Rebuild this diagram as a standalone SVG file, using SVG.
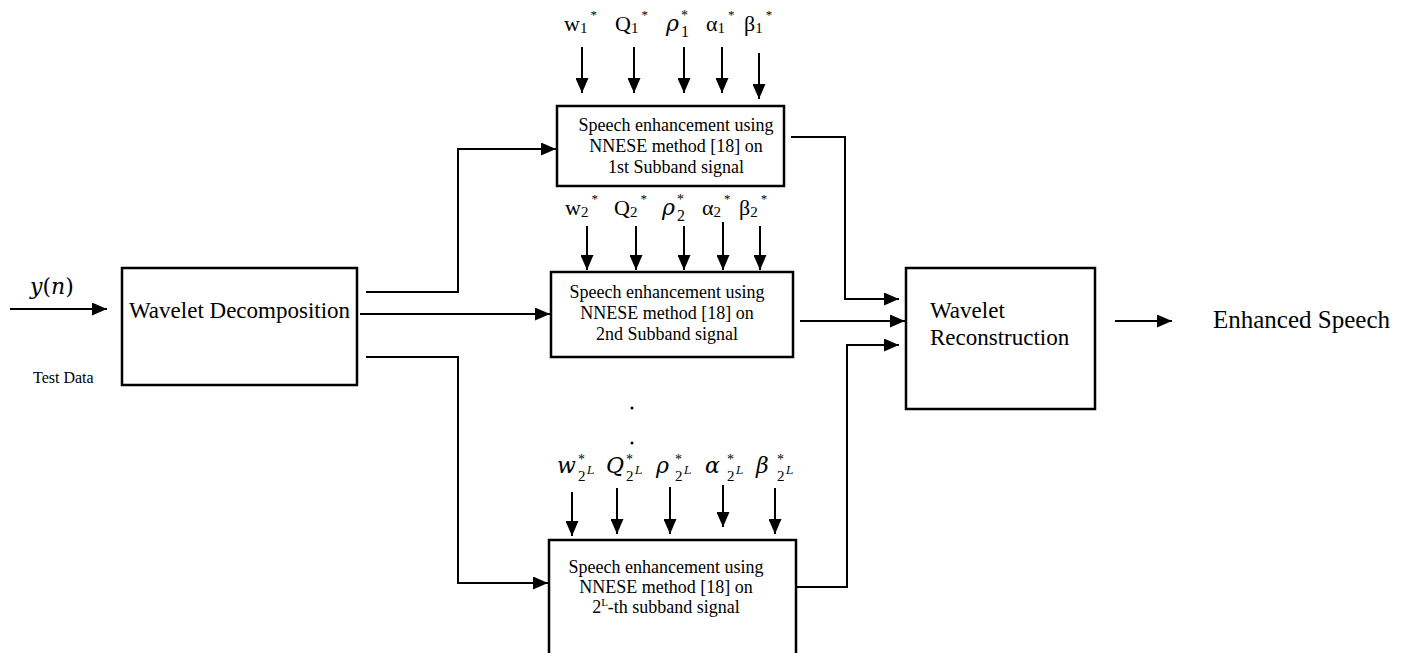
<svg xmlns="http://www.w3.org/2000/svg" width="1407" height="653" viewBox="0 0 1407 653">
<style>
.box{fill:#fff;stroke:#000;stroke-width:2.5}
.ln{fill:none;stroke:#000;stroke-width:2}
.t{font-family:"Liberation Serif","Times New Roman",serif;fill:#000}
.bt{font-family:"Liberation Serif","Times New Roman",serif;font-size:18px;fill:#000;text-anchor:middle}
.m{font-family:"DejaVu Serif","Liberation Serif",serif;font-style:italic;fill:#000}
.p{font-family:"Liberation Serif",serif;font-size:22px;fill:#000}
</style>
<defs>
<marker id="ah" viewBox="0 0 15 13" refX="15" refY="6.5" markerWidth="15" markerHeight="13" markerUnits="userSpaceOnUse" orient="auto">
<path d="M0,0 L15,6.5 L0,13 z" fill="#000"/>
</marker>
</defs>
<rect width="1407" height="653" fill="#fff"/>

<g id="connectors">
<path class="ln" d="M10,309 H107" marker-end="url(#ah)"/>
<path class="ln" d="M366,292 H458 V149 H556" marker-end="url(#ah)"/>
<path class="ln" d="M360,314 H550" marker-end="url(#ah)"/>
<path class="ln" d="M366,357 H458 V583 H548" marker-end="url(#ah)"/>
<path class="ln" d="M791,137 H845 V299 H899" marker-end="url(#ah)"/>
<path class="ln" d="M800,321 H905" marker-end="url(#ah)"/>
<path class="ln" d="M796,587 H847 V345 H899" marker-end="url(#ah)"/>
<path class="ln" d="M1115,321 H1172" marker-end="url(#ah)"/>
<!-- parameter arrows row 1 -->
<path class="ln" d="M582,47 V93" marker-end="url(#ah)"/>
<path class="ln" d="M634,47 V93" marker-end="url(#ah)"/>
<path class="ln" d="M684,47 V93" marker-end="url(#ah)"/>
<path class="ln" d="M722,47 V93" marker-end="url(#ah)"/>
<path class="ln" d="M759,53 V99" marker-end="url(#ah)"/>
<!-- row 2 -->
<path class="ln" d="M587,226 V270" marker-end="url(#ah)"/>
<path class="ln" d="M636,226 V270" marker-end="url(#ah)"/>
<path class="ln" d="M684,226 V270" marker-end="url(#ah)"/>
<path class="ln" d="M723,222 V270" marker-end="url(#ah)"/>
<path class="ln" d="M760,226 V270" marker-end="url(#ah)"/>
<!-- row 3 -->
<path class="ln" d="M572,492 V536" marker-end="url(#ah)"/>
<path class="ln" d="M617,488 V534" marker-end="url(#ah)"/>
<path class="ln" d="M670,487 V534" marker-end="url(#ah)"/>
<path class="ln" d="M723,485 V527" marker-end="url(#ah)"/>
<path class="ln" d="M775,488 V534" marker-end="url(#ah)"/>
</g>

<g id="input-label">
<text class="m" x="30" y="294" font-size="22">y<tspan font-style="normal">(</tspan>n<tspan font-style="normal">)</tspan></text>
<text class="t" x="33" y="383" font-size="16">Test Data</text>
</g>

<g id="decomposition">
<rect class="box" x="122" y="268" width="235" height="117"/>
<text class="t" x="129" y="318" font-size="23">Wavelet Decomposition</text>
</g>

<g id="enh1">
<rect class="box" x="557" y="106" width="227" height="80"/>
<text class="bt" x="676" y="131">Speech enhancement using</text>
<text class="bt" x="676" y="152">NNESE method [18] on</text>
<text class="bt" x="676" y="173">1st Subband signal</text>
</g>

<g id="params1">
<text class="p" x="564" y="31">w<tspan font-size="15" dy="2">1</tspan><tspan font-size="13" dx="3" dy="-14">*</tspan></text>
<text class="p" x="615" y="31">Q<tspan font-size="15" dy="2">1</tspan><tspan font-size="13" dx="3" dy="-14">*</tspan></text>
<text class="m" x="666" y="31" font-size="22">ρ</text>
<text class="t" x="681" y="20" font-size="14">*</text>
<text class="t" x="681" y="37" font-size="16">1</text>
<text class="p" x="706" y="31">α<tspan font-size="15" dy="2">1</tspan><tspan font-size="13" dx="3" dy="-14">*</tspan></text>
<text class="p" x="744" y="31">β<tspan font-size="15" dy="2">1</tspan><tspan font-size="13" dx="3" dy="-14">*</tspan></text>
</g>

<g id="enh2">
<rect class="box" x="551" y="272" width="242" height="85"/>
<text class="bt" x="667" y="298">Speech enhancement using</text>
<text class="bt" x="667" y="319">NNESE method [18] on</text>
<text class="bt" x="667" y="340">2nd Subband signal</text>
</g>

<g id="params2">
<text class="p" x="565" y="215">w<tspan font-size="15" dy="2">2</tspan><tspan font-size="13" dx="3" dy="-14">*</tspan></text>
<text class="p" x="614" y="215">Q<tspan font-size="15" dy="2">2</tspan><tspan font-size="13" dx="3" dy="-14">*</tspan></text>
<text class="m" x="662" y="215" font-size="22">ρ</text>
<text class="t" x="677" y="204" font-size="14">*</text>
<text class="t" x="677" y="221" font-size="16">2</text>
<text class="p" x="702" y="215">α<tspan font-size="15" dy="2">2</tspan><tspan font-size="13" dx="3" dy="-14">*</tspan></text>
<text class="p" x="739" y="215">β<tspan font-size="15" dy="2">2</tspan><tspan font-size="13" dx="3" dy="-14">*</tspan></text>
</g>

<g id="dots">
<circle cx="632" cy="408" r="1.5" fill="#000"/>
<circle cx="632" cy="443" r="1.5" fill="#000"/>
</g>

<g id="params3">
<text class="m" x="557" y="473" font-size="22">w</text>
<text class="t" x="578" y="464" font-size="14">*</text>
<text class="t" x="578" y="481" font-size="15">2</text>
<text class="m" x="587" y="474" font-size="11">L</text>
<text class="m" x="606" y="473" font-size="22">Q</text>
<text class="t" x="626" y="464" font-size="14">*</text>
<text class="t" x="626" y="481" font-size="15">2</text>
<text class="m" x="635" y="474" font-size="11">L</text>
<text class="m" x="656" y="473" font-size="22">ρ</text>
<text class="t" x="675" y="464" font-size="14">*</text>
<text class="t" x="675" y="481" font-size="15">2</text>
<text class="m" x="684" y="474" font-size="11">L</text>
<text class="m" x="705" y="473" font-size="22">α</text>
<text class="t" x="727" y="464" font-size="14">*</text>
<text class="t" x="727" y="481" font-size="15">2</text>
<text class="m" x="736" y="474" font-size="11">L</text>
<text class="m" x="756" y="473" font-size="22">β</text>
<text class="t" x="777" y="464" font-size="14">*</text>
<text class="t" x="777" y="481" font-size="15">2</text>
<text class="m" x="786" y="474" font-size="11">L</text>
</g>

<g id="enh3">
<rect class="box" x="549" y="540" width="247" height="130"/>
<text class="bt" x="666" y="573">Speech enhancement using</text>
<text class="bt" x="666" y="593">NNESE method [18] on</text>
<text class="bt" x="666" y="613">2<tspan font-size="11" dy="-7">L</tspan><tspan dy="7">-th subband signal</tspan></text>
</g>

<g id="reconstruction">
<rect class="box" x="906" y="268" width="189" height="141"/>
<text class="t" x="930" y="318" font-size="23">Wavelet</text>
<text class="t" x="930" y="345" font-size="23">Reconstruction</text>
</g>

<g id="output">
<text class="t" x="1213" y="328" font-size="25">Enhanced Speech</text>
</g>
</svg>
